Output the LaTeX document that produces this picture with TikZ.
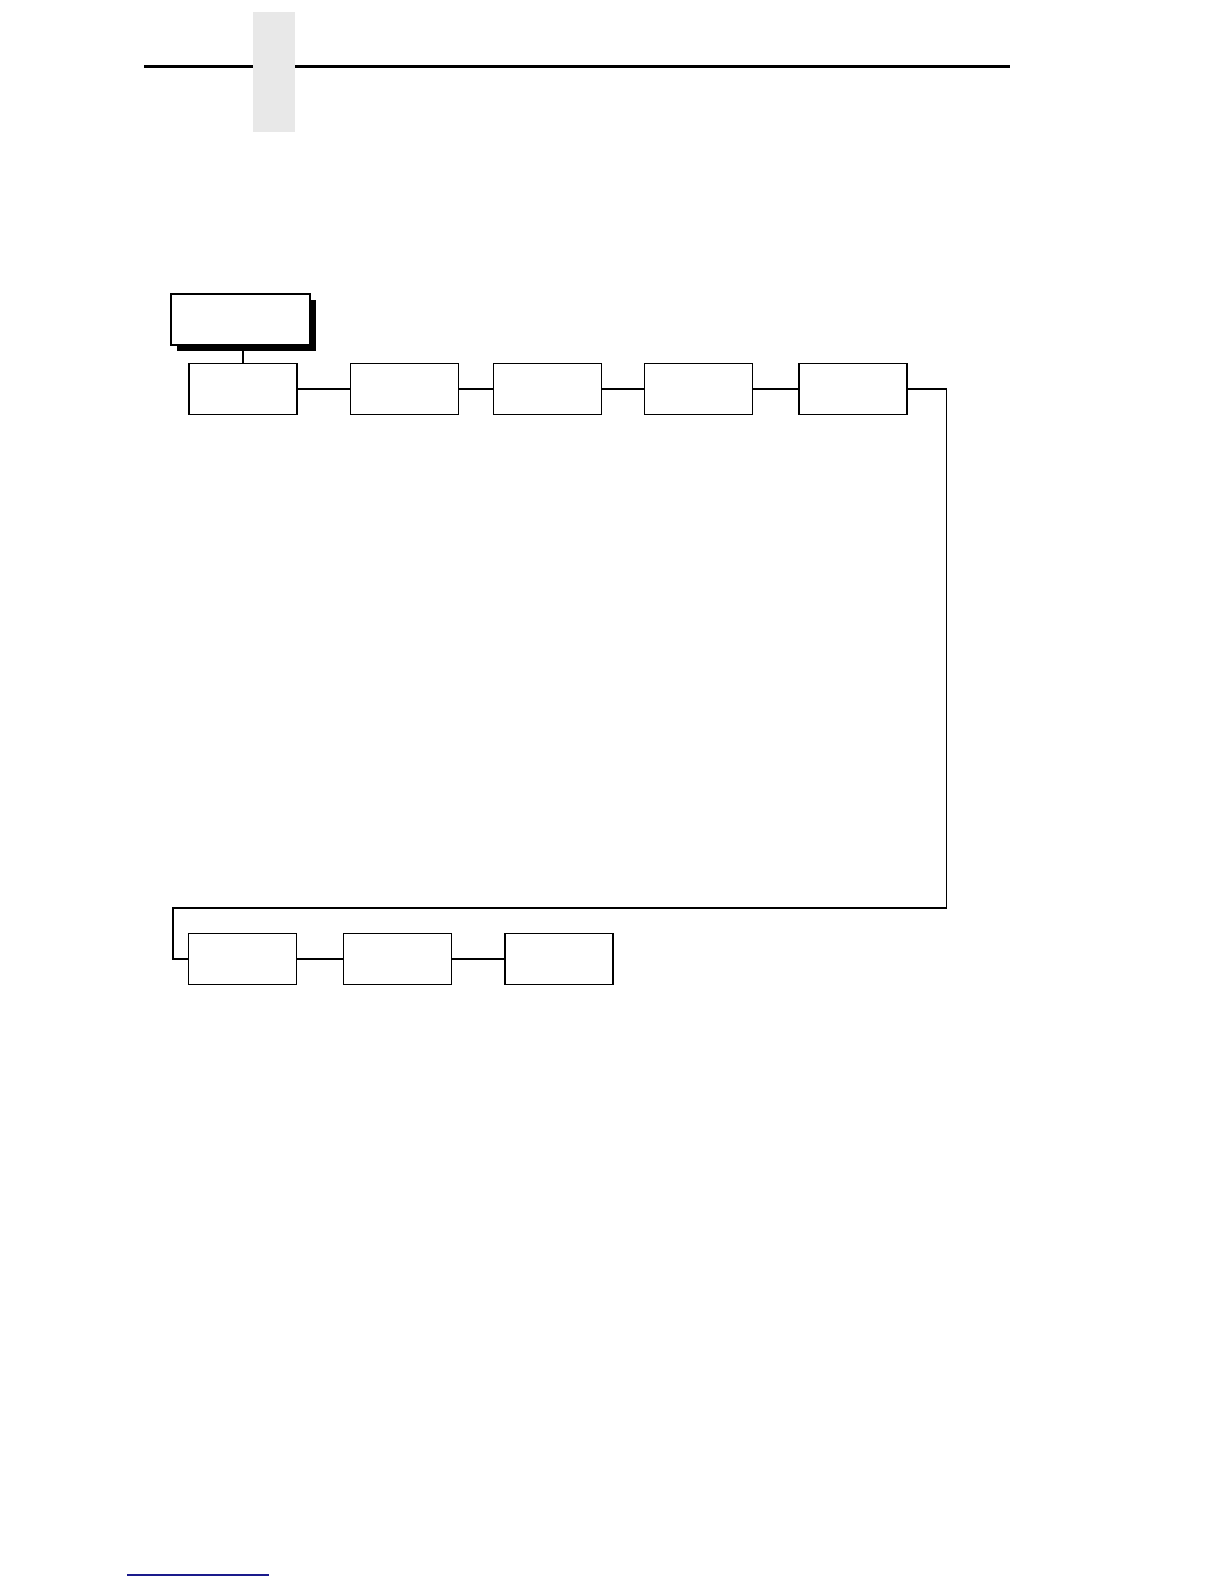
\documentclass[tikz,border=0pt]{standalone}
\usetikzlibrary{shadows}
\definecolor{tabgray}{HTML}{E8E8E8}
\definecolor{linkblue}{HTML}{1A1A8C}

\begin{document}
\begin{tikzpicture}[x=1bp, y=-1bp, line width=1.6bp,
    menubox/.style={draw, rectangle, inner sep=0pt, minimum width=108bp, minimum height=51bp}]
        \useasboundingbox (0,0) rectangle (1224,1584);
        % page header
        \draw[line width=3bp] (144,66.5) -- (1010,66.5);
        \fill[tabgray] (253,12) rectangle (295,132);

        \node[menubox, fill=white, minimum width=139bp, drop shadow={shadow xshift=6bp, shadow yshift=-6bp, fill=black, opacity=1}] (top) at (240.5,319.5) {};
        \node[menubox] (m1) at (243,389) {};
        \node[menubox] (m2) at (404.5,389) {};
        \node[menubox] (m3) at (547.5,389) {};
        \node[menubox] (m4) at (698.5,389) {};
        \node[menubox] (m5) at (853,389) {};
        \node[menubox] (n1) at (242.5,959) {};
        \node[menubox] (n2) at (397.5,959) {};
        \node[menubox] (n3) at (559,959) {};
        \coordinate (rt) at (946.5,908);
        \coordinate (lt) at (173,908);

        \draw (m1.north) -- (m1.north |- top.south);
        \draw (m1) -- (m2);
        \draw (m2) -- (m3);
        \draw (m3) -- (m4);
        \draw (m4) -- (m5);
        \draw (m5.east) -| (rt) -- (lt) |- (n1.west);
        \draw (n1) -- (n2);
        \draw (n2) -- (n3);

        \draw[linkblue, line width=1.2bp] (127,1575) -- (269,1575);
    \end{tikzpicture}
\end{document}
